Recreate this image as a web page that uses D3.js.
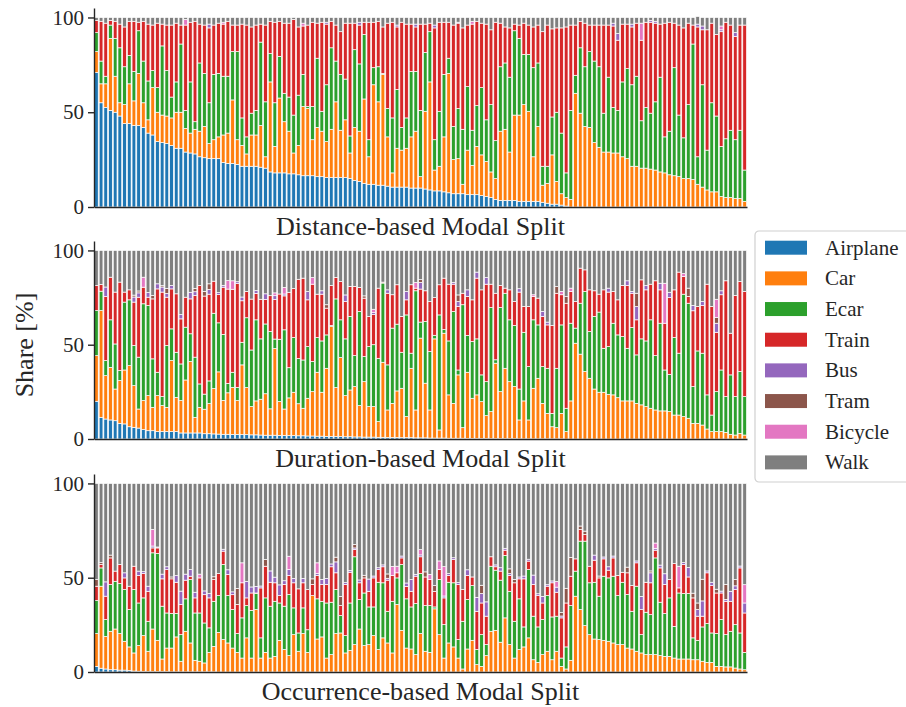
<!DOCTYPE html>
<html>
<head>
<meta charset="utf-8">
<script src="https://cdn.jsdelivr.net/npm/d3@7"></script>
<style>
  html, body { margin: 0; padding: 0; background: #fff; }
  svg { display: block; font-family: "Liberation Serif", "Times New Roman", serif; }
</style>
</head>
<body>
<svg id="chart" width="906" height="707"></svg>
<script>
// modal split per user, three views (distance / duration / occurrence)

const MODES = ['Airplane', 'Car', 'Ecar', 'Train', 'Bus', 'Tram', 'Bicycle', 'Walk'];
const COLORS = ['#1f77b4', '#ff7f0e', '#2ca02c', '#d62728', '#9467bd', '#8c564b', '#e377c2', '#7f7f7f'];
const TITLES = ['Distance-based Modal Split', 'Duration-based Modal Split', 'Occurrence-based Modal Split'];
const Y_TICKS = [0, 50, 100];
const SERIF = '"Liberation Serif", "Times New Roman", serif';

// ---- distance-based ----
const distAir = [
  71,55,52.5,51,50,48,44,44,43,43,
  42,39,38,34.5,34,33.5,32.5,31,31,29,
  28.5,28,26.5,26,25.5,25.5,25.5,23.5,23,23,
  22.5,21.5,21.5,21.5,21.5,21,20.5,18.5,18,18,
  18,17.5,17.5,17,16.5,16.5,16.5,16,16,15.5,
  15.5,15.5,15.5,15.5,15,14,13.5,12.5,12,12,
  11.5,11.5,11,10.5,10.5,10.5,10.5,10,10,10,
  9.5,9,8.5,8.5,8,7.5,7,7,7,6.5,
  6.5,6.5,6,5.5,5,4,3.5,3.5,3.5,3.5,
  3,3,3,3,3,2.5,2,1.5,1.5,1,
  0.5,0,0,0,0,0,0,0,0,0,
  0,0,0,0,0,0,0,0,0,0,
  0,0,0,0,0,0,0,0,0,0,
  0,0,0,0,0,0,0,0,0
];
const distCar = [
  11,10,12.5,38,19,7,10,21,13,27.5,
  13,7,25,15.5,14.5,14.5,14.5,19,19,12.5,
  10.5,13,13.5,16.5,8,10,11.5,14.5,16,33.5,
  13,11,6.5,16.5,16.5,22,6,47.5,14,39.5,
  27,22.5,11,15.5,36.5,35.5,19,26,24,19,
  25.5,40,25,30.5,13.5,28,26.5,44.5,14.5,52.5,
  44,58.5,26,7.5,20.5,19.5,20.5,27,30,6,
  41,57,11,13,29,63,18,18.5,5,23.5,
  15.5,25.5,21.5,18.5,13.5,11,36.5,37.5,25.5,45,
  45.5,51,47.5,23.5,39.5,9,10.5,26,12,6,
  4.5,4,60,49.5,42.5,42,34,31.5,29,29,
  28.5,28.5,26.5,25.5,21.5,21.5,20.5,20.5,20,19.5,
  18.5,18,17,16.5,16,15,15,14.5,12,10.5,
  9,8,8,5.5,5,5,4.5,4.5,3
];
const distEcar = [
  10,12,4,7,20,29,20,15,15.5,22.5,
  22,20.5,9,13,36.5,24,11,16,36,9.5,
  27,4,36,28,21.5,34.5,33.5,31,30,25.5,
  46.5,14.5,9,11.5,13,44,29,15,23,22,
  15,18,20,26.5,17,1,17.5,36.5,10.5,30,
  43,21.5,29.5,21.5,9,41,35.5,34,9,9,
  18.5,0.5,15,29,31,12,16,34.5,31.5,35,
  31,26.5,16,29,33,8,17.5,26.5,29,33.5,
  18.5,21.5,35.5,22,35.5,20,34,35,39.5,44.5,
  40.5,26.5,30,47,33.5,10,9,20,36.5,32,
  13,47,9.5,34.5,31.5,40,43,42.5,20.5,39.5,
  24,22.5,39.5,47.5,43,47.5,25,32,29.5,36,
  50,19,23,57,32.5,21.5,39,71.5,14.5,54,
  21,47,40,26.5,31,35.5,31,36,16.5
];
const distTrain = [
  6.5,21,28,2.5,9,12.5,21,18,26.5,4.5,
  21,30,24,34,11.5,24,38,31,10,45,
  31.5,53,20.5,25.5,39.5,26,26.5,27.5,29,14,
  14,49.5,59,45.5,45,9.5,40.5,17,42.5,18.5,
  37,39,50.5,36,25.5,43,44.5,18.5,47,32,
  14,19,22.5,29.5,59.5,14,20.5,6.5,62,24,
  24,24.5,45,50.5,33,55.5,49.5,25,23.5,45.5,
  15,4.5,59,47,27.5,19,53.5,45,53.5,32.5,
  56,44.5,34,50.5,39.5,62.5,23,19,26,3.5,
  7,16.5,15.5,21.5,20,71,74.5,46.5,44.5,55.5,
  77,45,26.5,14,23,14,19,22,46.5,27.5,
  43,37,30.5,23.5,30.5,28,42.5,45,48,41.5,
  28,60,57.5,23.5,47.5,58,43,10,68.5,29,
  63.5,42,43,60.5,61.5,55.5,54.5,55.5,76.5
];
const distBus = [
  0,0,0,0,0,0,0,0,0,0,
  0,0,0,0,0,0,0,0,0,0,
  0,0,0,0,2,0,0,0,0,0,
  0,0,0,0,0,0,0,0,0,0,
  0,0,0,0,0,0,0,0,0,1,
  0,0,0,0,0,0,1.5,0,0,0,
  0,0,0,0,1,0,0,0,1.5,0,
  0,0,1.5,0,0,0,0,0.5,0,0,
  0,0,0,0,0,0,0,0,0,0,
  0,0,0,0,0,0,0,0,0,0,
  0,0,0,0,0,0,0,0,0,0,
  1.5,3.5,0,0,1.5,0,0,0,1,1,
  0,0,0,0,0,0,0,0,1.5,2,
  0,0,0,1,0,0,2,0,0
];
const distTram = [
  0,0,0,0,0,0,0,0,0,0,
  0,0,0,0,0,0,0,0,0,0,
  0,0,0,0,0,0,0,0,0,0,
  0,0,0,0,0,0,0,0,0,0,
  0,0,0,0,0,0,0,0,0,0,
  0,0,0,0,0,0,0,0,0,0,
  0,0,0,0,0,0,0,0,0,0,
  0,0,0,0,0,0,0,0,0,0,
  0,0,0,0,0,0,0,0,0,0,
  0,0,0,0,0,0,0,0,0,0,
  0,0,0,0,0,0,0,0,0,0,
  0,0,0,0,0,0,0,0,0,0,
  0,0,0,0,0,0,0,0,0,0,
  0,0,0,0,0,0,0,0,0
];
const distBike = [
  0,0,0,0,0,0,0,0,0,0,
  0,0,0,0,0,0,0,0,0,3,
  0,0,0,0,0,0,0,1,0,0,
  0,0,0,0,0,0,0,0,0,0,
  0,0,0,0,1.5,0,0,0,0,0,
  0,0,0,0,0,0,0,0,0,0,
  0,0,0,0,0,0,0,0,0,0,
  0,0,0,0,0,0,0,0,0,0,
  1.5,0,0,0,0,0,0,0,0,0,
  0,0,0,0,0,0,0,0,0,0,
  0,0,0,0,0,0,0,0,0,0,
  0,0,0,0,0,0,9,0,0,0,
  0,0,0,0,0,0,0,0,0,0,
  0,0,0,2,0,0,0,0,0
];
const distWalk = [
  1.5,2,3,1.5,2,3.5,5,2,2,2.5,
  2,3.5,4,3,3.5,4,4,3,4,1,
  2.5,2,3.5,4,3.5,4,3,2.5,2,4,
  4,3.5,4,5,4,3.5,4,2,2.5,2,
  3,3,1,5,3,4,2.5,3,2.5,2.5,
  2,4,7.5,3,3,3,2.5,2.5,2.5,2.5,
  2,5,3,2.5,4,2.5,3.5,3.5,3.5,3.5,
  3.5,3,4,2.5,2.5,2.5,4,2.5,5.5,4,
  2,2,3,3.5,6.5,2.5,3,5,5.5,3.5,
  4,3,4,5,4,7.5,4,6,5.5,5.5,
  5,4,4,2,3,4,4,4,4,4,
  3,8.5,3.5,3.5,3.5,3,3,2.5,1.5,2,
  3.5,3,2.5,3,4,5.5,3,4,4,4.5,
  6.5,3,9,4.5,2.5,4,8,4,4
];

// ---- duration-based ----
const durAir = [
  20,11.5,10.6,10.1,9.7,8.3,8,6.5,6.2,5.8,
  5,4.4,4.4,3.9,3.9,3.9,3.9,3.9,3.2,3.2,
  3.2,3.2,3.2,2.8,2.8,2.7,2.6,2.5,2.5,2.4,
  2.4,2.3,2.3,2.2,2.2,2.1,2,2,2,1.9,
  1.9,1.8,1.8,1.7,1.7,1.6,1.6,1.5,1.5,1.4,
  1.4,1.3,1.3,1.2,1.2,1.1,1.1,1,1,1,
  0.9,0.9,0.8,0.8,0.8,0.7,0.7,0.7,0.6,0.6,
  0.6,0.5,0.5,0.5,0.5,0.4,0.4,0.4,0.4,0.3,
  0.3,0.3,0.3,0.3,0.2,0.2,0.2,0.2,0.2,0.2,
  0.1,0.1,0.1,0.1,0.1,0.1,0.1,0.1,0.1,0.1,
  0,0,0,0,0,0,0,0,0,0,
  0,0,0,0,0,0,0,0,0,0,
  0,0,0,0,0,0,0,0,0,0,
  0,0,0,0,0,0,0,0,0
];
const durCar = [
  24.2,56.6,23,27.9,16.8,22.7,28.6,32.4,22.1,10.1,
  15.4,18.6,12.4,19.1,13.8,12.9,37.7,18.2,17.2,28.1,
  37.9,8.3,13.6,13,16,24,33,18,22,25,
  18,37,25,15,18,19,22,14,46,18,
  14,20,23,17,14.6,20,23.5,33.9,23.3,36.1,
  58.2,26,41.9,21.8,24.8,26.7,16.6,29.4,16.2,16.2,
  8.3,39.8,14.6,18.1,24.7,26.2,11.2,36.8,14.8,52.9,
  29,14.9,52.6,4.3,55.6,23,18.5,33.6,5.6,35.1,
  21.3,23.1,19.5,12.1,14.3,40,24.9,37.3,30.2,27.6,
  10,20.1,10,26.8,32.1,18.8,13.5,6.4,5.9,13.5,
  3.9,20.2,50.8,45,35.8,32.2,26.5,24.8,24.8,23.7,
  23.4,21.9,20.2,20.2,20.2,18.9,18.1,17.2,16.3,15.4,
  14.9,14.9,14.5,12.7,12.7,11.9,11,8.3,8.3,7.4,
  5.3,3.9,3.9,3.9,3.5,2.5,2.1,3,2.1
];
const durEcar = [
  23.9,10.3,8,25.2,23.9,5.3,36,34.9,21.3,27.5,
  51.3,47.8,25.7,12.4,4.8,32.8,16.8,23.9,19.4,28,
  14.7,31.9,12.4,8,12,40,26,35,5,8,
  7,12,37,30,43,32,37,41,5,33,
  42,16,29,24,25.6,27.4,16,18.4,27.2,17.7,
  0.6,47,20,30.1,39,16.4,49.9,13.3,31.8,32.8,
  33.6,42,23.9,39.9,35.4,19.1,53.9,8,63.2,8.5,
  32.7,31,1.9,61,1.9,28.6,48.7,2.6,65.2,19.5,
  30.1,29.7,14.2,18,55.2,1.8,44.6,39.8,32.8,32.4,
  16.4,36.4,28.3,36.3,28.3,19.5,23.9,7.1,31.5,46.9,
  12.4,41.2,8,27,42.4,24.8,38.5,42.5,23.3,25.3,
  38,33.3,34.1,27.9,38.9,25.7,35,34.8,46.9,28.8,
  46.5,21.7,19.8,41.1,32.8,64.9,61,19.5,38.4,38.1,
  18.1,8.8,21.2,32.7,19,31.5,20.4,32.8,20.4
];
const durTrain = [
  13.3,3.5,34,22.6,27.5,46.9,5.3,5.3,23,31.8,
  8.8,4.4,31.8,44.2,55.4,25.6,21.2,31,23.9,15.9,
  18.5,32.7,52.2,52,46,17,15,25,50,44,
  55,22,14,27,14,21,13,19,21,24,
  18,40,26,42,43.4,24.8,41,23,24.8,14.2,
  21.2,11.4,20.3,19.8,15.9,36.7,12.8,31,16,16,
  37.2,0.5,38,17.7,20.9,19,8,36.3,1.4,17.5,
  16.3,26.5,20,16,27.3,30.1,14.5,33.7,6.1,20.7,
  22.1,32.2,45.1,51.7,12.4,35.3,11.7,2.7,15.9,12.7,
  51.4,13.7,31.9,12.4,14.2,26.6,23,46.6,39.8,16,
  55.7,16.8,14.1,18.6,11.5,22.1,13.6,9.5,31,28.9,
  16.8,18.6,27.1,33.3,18.2,18.6,31.3,27.1,18.9,39.7,
  17.7,24.8,40.7,25.3,43,9.4,3.6,40.2,23.6,25.3,
  58.7,57.6,31.5,39.9,61.4,22.1,53.6,47.7,55.7
];
const durBus = [
  0,0,5,0,0,0,0,0,2.7,2.3,
  0,2.5,0,2.7,2.7,2,1.8,0,2.3,0,
  3.5,2,0,0,2.5,0,1,1,0,0,
  1,2,0,0,1.5,0,3,0,2,0,
  1,0,0,0,0,4.4,0,0,1.8,0,
  0,0,0,3.5,0,0,0,0,0,1,
  0,0,1.8,0,0,0,4.4,0,0,3.5,
  0,0,0,0,0,0,1,2.6,0,3.5,
  0,3.2,0,3.5,0,0,0,0,0,0,
  1.8,0,0,0,0,2.7,1.5,0,0,0,
  0,0,0,0,0,0,0,0,0,2.1,
  0,0,0,2.5,1,7,0,2.3,0,0,
  3.5,0,2.8,0,0,0,0,2.8,0,2.1,
  0,0,4.8,2.1,0,0,0,0,0
];
const durTram = [
  0,0,0,0,0,0,0,0,1,1,
  0,0,1.8,0,0.7,2.7,0,0,0,0,
  0,1.8,0,2.5,3,0,0,0,0,0,
  0,0,0,0,0,0,0,0,0,0,
  0,0,0,0,0,0,0,0,0,1.8,
  0,0,0,0,0,0,0,1.2,0,0,
  0,0,0,0,0,0,0,0,0,1.5,
  0,0,0,0,0,0,0,3.5,0,0,
  0,0,0,0,0,0,0,0,0,0,
  0,0,0,0,0,0,0,0,3.5,0,
  3.5,0,0,0,0,0,0,0,0,0,
  0,0,0,0,0,7.1,0,0,0,0,
  0,0,0,0,0,0,4.4,0,0,0,
  0,0,3,0,0,0,0,0,0
];
const durBike = [
  0,0,0,0,0,0,0,0,0,0,
  5.3,0,0,0,0,0,0,0,0,0,
  0,0,0,0,0,0,0,0,4.5,4.5,
  0,0,0,0,0,0,0,0,1.5,0,
  3.5,0,0,0,0,0,3.5,0,0,0,
  0,0,0,0,0,0,0,0,0,1.8,
  0,0,0,0,0,0,0,0,3,0,
  0,0,0,0,0,0,0,0,0,0,
  0,0,0,0,0,0,0,0,0,0,
  0,0,0,0.9,0,0,0,0,0,1.8,
  0,1.8,0,0,0,0,0,0,0,0,
  0,0,0,0,0,0,0,0,0,0,
  0,21.2,0,0,0,1.5,0,0,0,0,
  0,0,9.7,0,0,0,0,0,0
];
const durWalk = [
  18.6,18.1,19.4,14.2,22.1,16.8,22.1,20.9,23.7,21.5,
  14.2,22.3,23.9,17.7,18.7,20.1,18.6,23,34,24.8,
  22.2,20.1,18.6,21.7,17.7,16.3,22.4,18.5,16,16.1,
  16.6,24.7,21.7,25.8,21.3,25.9,23,24,22.5,23.1,
  19.6,22.2,20.2,15.3,14.7,21.8,14.4,23.2,21.4,28.8,
  18.6,14.3,16.5,23.6,19.1,19.1,19.6,24.1,35,31.2,
  20,16.8,20.9,23.5,18.2,35,21.8,18.2,17,15.5,
  21.4,27.1,25,18.2,14.7,17.9,16.9,23.6,22.7,20.9,
  26.2,11.5,20.9,14.4,17.9,22.7,18.6,20,20.9,27.1,
  20.3,29.7,29.7,23.5,25.3,32.3,38,39.8,19.2,21.7,
  24.5,20,27.1,9.4,10.3,20.9,21.4,23.2,20.9,20,
  21.8,26.2,18.6,16.1,21.7,22.7,15.6,18.6,17.9,16.1,
  17.4,17.4,22.2,20.9,11.5,12.3,20,29.2,29.7,27.1,
  17.9,29.7,25.9,21.4,16.1,43.9,23.9,16.5,21.8
];

// ---- occurrence-based ----
const occAir = [
  3,2,1.6,1.2,1.2,1,1,0.8,0.5,0.4,
  0.3,0.2,0.2,0.2,0.2,0.2,0.1,0.1,0.1,0.1,
  0.1,0.1,0.1,0.1,0.1,0.1,0,0,0,0,
  0,0,0,0,0,0,0,0,0,0,
  0,0,0,0,0,0,0,0,0,0,
  0,0,0,0,0,0,0,0,0,0,
  0,0,0,0,0,0,0,0,0,0,
  0,0,0,0,0,0,0,0,0,0,
  0,0,0,0,0,0,0,0,0,0,
  0,0,0,0,0,0,0,0,0,0,
  0,0,0,0,0,0,0,0,0,0,
  0,0,0,0,0,0,0,0,0,0,
  0,0,0,0,0,0,0,0,0,0,
  0,0,0,0,0,0,0,0,0
];
const occCar = [
  17.4,43.5,17.3,20.4,21.6,19.4,15.3,12.5,9.6,13.6,
  19,10.8,22.6,16.6,6.7,12.5,12.6,18.5,5.6,21.5,
  15.3,6.1,5.6,4.7,10.3,13.5,21,17.2,15.4,12.7,
  10.4,7.4,18.1,7.4,33.1,7.4,10.4,7.4,8.3,16.8,
  11.9,8.7,19.8,11,20.4,10.4,40.5,17.5,18.6,7.4,
  9.2,20.4,20.7,10.1,11.5,14.5,22.8,14,14.5,19.3,
  11.9,18.1,15.4,10.1,35.8,22.1,12.7,12.2,9.2,20.4,
  11,10.4,33.5,19.8,7.4,15.4,13.3,7.4,1.6,12.2,
  16.8,3.9,3,8.7,21.6,22.1,15.8,28.7,14.5,7.4,
  11.9,13.3,18.1,6.5,5.1,9.2,11,6.5,11,3,
  1.6,6.2,40.2,33.1,24.6,19.8,17.5,17.2,16.8,16.3,
  15.4,14.5,14.5,12.7,12.2,11,10.1,9.2,9.2,9.2,
  8.7,8.3,8.3,7.4,6.9,6.9,6.9,6.5,6.5,5.7,
  5.1,5.1,3,3,2.7,2.7,2.1,1.6,1.2
];
const occEcar = [
  17.5,9.7,8.9,24.8,25.3,26.5,27.4,19.8,33.6,22.6,
  20,15.9,40.4,46,28,18.6,18.3,12.4,14.1,17.2,
  33.6,25.1,25.6,21.2,13,23.9,19.5,39.8,25.1,20.4,
  10,21.3,17.1,25.3,8.5,10.7,28.9,27.5,29.2,19.8,
  23,32.4,14.2,9.7,13.6,12,0,21.3,18.9,29.2,
  27.8,23.3,9.2,9.2,25.1,46.6,15.6,27.9,20,15.2,
  35.7,29.2,16.8,27.4,14.1,34.9,26.1,22.3,27.1,31.8,
  24.2,24.8,1,29.2,17.7,32.2,34,9.8,25.3,26.2,
  29,8,16.8,5.8,34.5,31.9,32.9,33.1,28.3,19.5,
  26.9,10.6,36.2,23.1,18.8,18.6,29.5,22.7,18.6,4.4,
  11.7,29,13.3,36.3,44.8,27.5,30.1,23,34,33.6,
  35.4,26,33.1,28.4,20,34.5,9.7,22.5,21.2,51.3,
  28.3,22.7,31,16.8,35,34.7,34.7,11.6,10.3,18.2,
  20.6,15.6,17.4,24.8,17.1,18.9,23,19.1,9.2
];
const occTrain = [
  7.6,1.8,12.4,14.1,5.4,10.1,6.2,12.4,12.4,14.6,
  12.9,15.9,2.6,3,14.5,23,18.4,16.6,16,9.9,
  1.8,8,18.6,15,15.9,11.5,11.7,7.1,11.2,7.9,
  15.4,18.6,4.1,9.2,0.3,26.5,16.8,12.7,9.8,3.9,
  11.5,10.1,13.3,23.4,13.3,21.3,5.9,12.4,8.9,9.8,
  18.8,8.9,5.3,27.1,16.3,3.9,8.9,8,8.3,15.4,
  6.7,8.5,16.5,13.7,2.7,3.5,6.6,8.3,14.5,8.9,
  15.2,13.8,8.3,5.3,14.2,3.6,12.3,29.2,16.8,12.8,
  4.6,20.3,16.8,15.1,5,1.8,4.8,2.8,8.4,20.4,
  10.6,25.5,4.5,16.8,16.6,8.8,5,18.1,12.7,21.3,
  23.3,15.6,6.5,6.2,3.5,8.8,11.7,9.7,9.2,4.1,
  9.7,10.7,5.3,11.5,13.6,12.4,13.3,15.9,16.9,4.1,
  18.2,15.4,9.7,33.3,2.7,15.4,8.8,21.2,12.8,5.7,
  26.9,25.1,21.5,14.1,17.7,15.9,18.6,34.5,20.9
];
const occBus = [
  0,0,7.6,0,0,0,2.7,0,0,2.3,
  1,2.7,1,0.5,2.5,1.5,0,3.5,7.1,3.2,
  3.5,3,0,2,2.3,0,0,1,2.5,1.5,
  0,0,8.8,3.2,3.5,1,0,6,3,5.7,
  2,3.2,2.3,0,2.3,0,0,1,2.7,3.2,
  1.5,5.8,0,1,1,0.8,1.5,0,6.5,1,
  1,1,1,0,0,1,1.8,6.2,1,1,
  0,0,0,0,1,1,1,1,0,3,
  0,7.4,5,7.6,0,1,1.8,1,1,0,
  1,1.5,1,5,1,3.5,0.8,1,2.7,1,
  0,0,0,0,0,0,2.7,0,1,1.8,
  1,0,0,0,0,1,7,0,5.3,1,
  1.5,5.7,0,0,0,1,5,0,3.5,8.1,
  1,1.8,0,1,1,5.3,2,1,5.3
];
const occTram = [
  3.5,1,0,1.5,0,0,0,0,0,0,
  0,0,0,0,0,0,1,0,0,0,
  0,0,0,0,0,1.5,0,0,0,0,
  8.5,0,0,0,0,0,3.5,0,0,0,
  0,0,0,0,0,0,3,0,0,0,
  0,2.5,4.8,0,0,1.8,0,1.4,0,0,
  0,0,2.3,0,0,0,0,0,0,0,
  2.7,0,3,0,0,0,0,0,0,0,
  0,0,4.4,0,0,0,0,0,2.5,1.8,
  0,0,0,0,0,0,0,0,0,1.8,
  7.8,10,0,1.8,1.8,0,0,1,0,0,
  0,0,0,3,0,0,0,0,1,0,
  0,0,0,0,0,0,0,2.5,3.5,11.5,
  0,0,2,0,8,0,3.3,0,0
];
const occBike = [
  0,0,0,0,0,0,0,0,0,0,
  0,0,8.8,0,0,0,0,0,0,0,
  0,0,2,0,0,0,0,0,0,0,
  0,10.6,0,0,0,0,0,0,0,0,
  0,7,0,0,0,0,0,5.7,0,0,
  0,0,0,0,0,0,0,0,0,0,
  0,0,0,4.8,3.5,0,0,0,0,2.8,
  0,2.8,0,4.6,15.6,0,0,0,0,0,
  0,0,0,0,0,0,0,0,0,0,
  0,0,0,0,0,0,0,0,3,0,
  0,0,0,0,0,0,0,0,0,0,
  0,0,0,0,0,0,0,0,0,2.8,
  0,0,0,0,11.5,0,0,0,0,0,
  0,0,0,0,0,0,0,0,9.7
];
const occWalk = [
  51,42,52.2,38,46.5,43,47.4,54.5,43.9,46.5,
  46.8,54.5,24.4,33.7,48.1,44.2,49.6,48.9,57.1,48.1,
  45.7,57.7,48.1,57,58.4,49.5,47.8,34.9,45.8,57.5,
  55.7,42.1,51.9,54.9,54.6,54.4,40.4,46.4,49.7,53.8,
  51.6,38.6,50.4,55.9,50.4,56.3,50.6,42.1,50.9,50.4,
  42.7,39.1,60,52.6,46.1,32.4,51.2,48.7,50.7,49.1,
  44.7,43.2,48,44,43.9,38.5,52.8,51,48.2,35.1,
  46.9,48.2,54.2,41.1,44.1,47.8,39.4,52.6,56.3,45.8,
  49.6,60.4,54,62.8,38.9,43.2,44.7,34.4,45.3,50.9,
  49.6,49.1,40.2,48.6,58.5,59.9,53.7,51.7,52,68.5,
  55.6,39.2,40,22.6,25.3,43.9,38,49.1,39,44.2,
  38.5,48.8,47.1,44.4,54.2,41.1,59.9,52.4,46.4,31.6,
  43.3,47.9,51,42.5,43.9,42,44.6,58.2,63.4,50.8,
  46.4,52.4,56.1,57.1,53.5,57.2,51,43.8,53.7
];

// ---- layout ----
const X0 = 94, X1 = 747;
const PANELS = [
  { title: TITLES[0], top: 8,   bottom: 207, series: [distAir, distCar, distEcar, distTrain, distBus, distTram, distBike, distWalk] },
  { title: TITLES[1], top: 241, bottom: 439, series: [durAir, durCar, durEcar, durTrain, durBus, durTram, durBike, durWalk] },
  { title: TITLES[2], top: 474, bottom: 672, series: [occAir, occCar, occEcar, occTrain, occBus, occTram, occBike, occWalk] }
];

const svg = d3.select('#chart');
const idx = d3.range(distCar.length);

const x = d3.scaleBand()
  .domain(idx)
  .range([X0, X1])
  .paddingInner(0.2)
  .paddingOuter(0.1);

function drawPanel(p) {
  const y = d3.scaleLinear().domain([0, 105]).range([p.bottom, p.top]);

  const rows = idx.map(i => {
    const r = { i };
    MODES.forEach((m, k) => { r[m] = p.series[k][i] || 0; });
    return r;
  });
  const layers = d3.stack().keys(MODES)(rows);

  const g = svg.append('g');

  g.selectAll('g.layer')
    .data(layers)
    .join('g')
    .attr('class', 'layer')
    .attr('fill', (d, k) => COLORS[k])
    .selectAll('rect')
    .data(d => d.filter(s => s[1] - s[0] > 0))
    .join('rect')
    .attr('x', d => x(d.data.i))
    .attr('width', x.bandwidth())
    .attr('y', d => y(d[1]))
    .attr('height', d => y(d[0]) - y(d[1]))
    .attr('stroke', '#fff')
    .attr('stroke-width', 0.7);

  // left spine + ticks
  const ay = g.append('g')
    .attr('transform', `translate(${X0},0)`)
    .call(d3.axisLeft(y).tickValues(Y_TICKS).tickSize(6).tickPadding(4).tickSizeOuter(0));
  ay.select('.domain').attr('stroke', '#262626').attr('stroke-width', 1.4);
  ay.selectAll('.tick line').attr('stroke', '#262626').attr('stroke-width', 1.4);
  ay.selectAll('.tick text')
    .attr('font-family', SERIF)
    .attr('font-size', 21)
    .attr('fill', '#262626');

  // bottom spine, no ticks
  const ax = g.append('g')
    .attr('transform', `translate(0,${p.bottom})`)
    .call(d3.axisBottom(x).tickValues([]).tickSizeOuter(0));
  ax.select('.domain').attr('stroke', '#262626').attr('stroke-width', 1.4);

  g.append('text')
    .attr('x', (X0 + X1) / 2)
    .attr('y', p.bottom + 28)
    .attr('text-anchor', 'middle')
    .attr('font-family', SERIF)
    .attr('font-size', 26)
    .attr('fill', '#262626')
    .text(p.title);
}

PANELS.forEach(drawPanel);

// shared y label
svg.append('text')
  .attr('transform', 'translate(24,345) rotate(-90)')
  .attr('text-anchor', 'middle')
  .attr('dominant-baseline', 'central')
  .attr('font-family', SERIF)
  .attr('font-size', 26)
  .attr('fill', '#262626')
  .text('Share [%]');

// legend (runs off the right edge like the original)
const leg = svg.append('g').attr('transform', 'translate(755,231)');
leg.append('rect')
  .attr('x', 0).attr('y', 0)
  .attr('width', 170).attr('height', 251)
  .attr('rx', 4)
  .attr('fill', '#fff')
  .attr('stroke', '#d0d0d0')
  .attr('stroke-width', 1.2);

const item = leg.selectAll('g.item')
  .data(MODES)
  .join('g')
  .attr('class', 'item')
  .attr('transform', (d, k) => `translate(0,${16.7 + k * 30.67})`);

item.append('rect')
  .attr('x', 10).attr('y', -7)
  .attr('width', 42).attr('height', 14)
  .attr('fill', (d, k) => COLORS[k]);

item.append('text')
  .attr('x', 70)
  .attr('dominant-baseline', 'central')
  .attr('font-family', SERIF)
  .attr('font-size', 21)
  .attr('fill', '#262626')
  .text(d => d);
</script>
</body>
</html>
